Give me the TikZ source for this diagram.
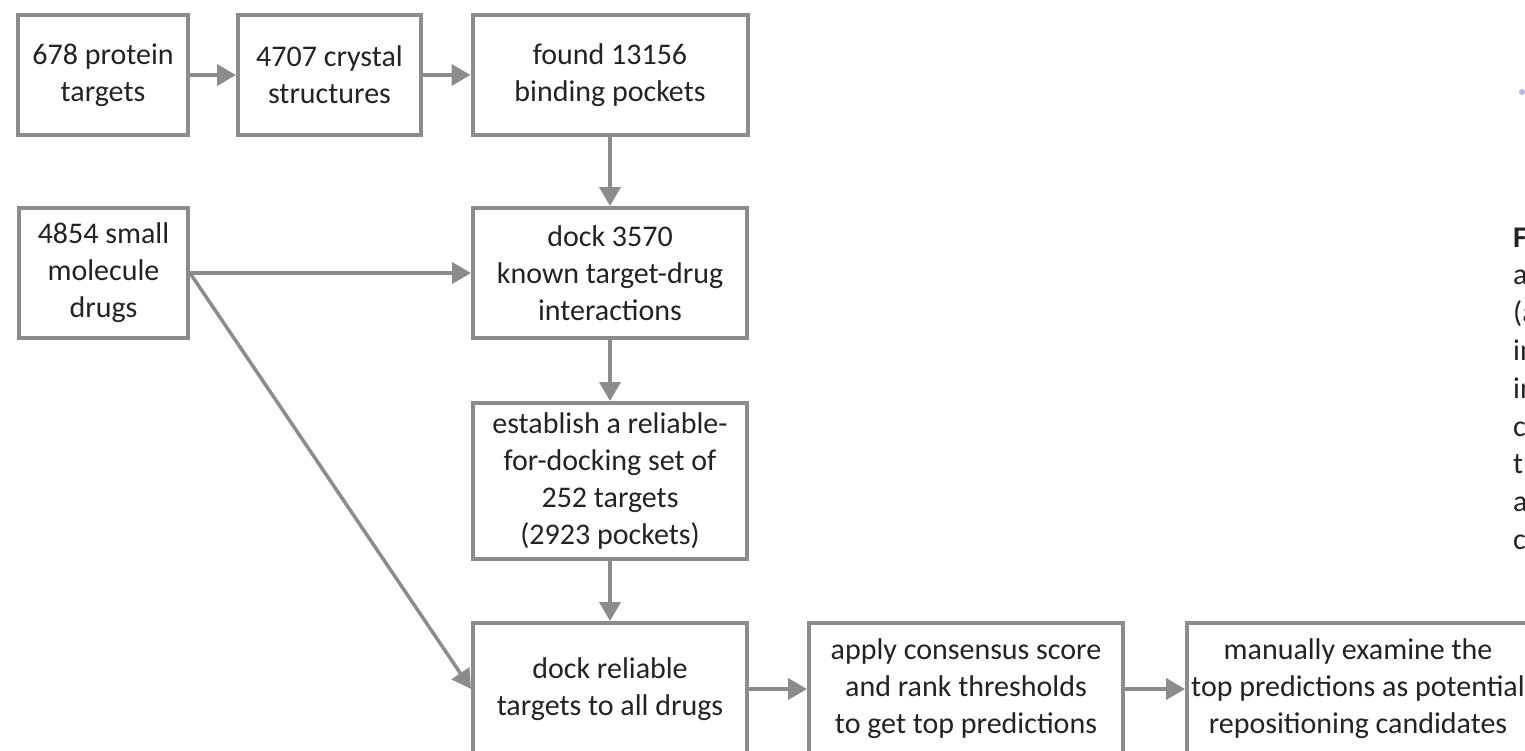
\documentclass[tikz,border=0pt]{standalone}
\usepackage{fontspec}
\setmainfont{Carlito}
\usetikzlibrary{arrows.meta}
\definecolor{edge}{RGB}{140,140,140}
\definecolor{ink}{RGB}{35,35,35}
\definecolor{speck}{RGB}{120,140,200}
\tikzset{
  stage/.style={draw=edge, line width=4pt, fill=white, text=ink, align=center,
    inner sep=1pt, font=\fontsize{30}{37}\selectfont},
  flow/.style={draw=edge, line width=4pt, -{Triangle[length=19pt,width=21pt]}},
  slant/.style={draw=edge, line width=3.5pt, -{Triangle[length=19pt,width=21pt]}},
  capline/.style={text=ink, inner sep=0pt, anchor=base west,
    font=\fontsize{30}{38}\selectfont},
}
\begin{document}
\begin{tikzpicture}[x=1pt,y=-1pt]
\clip (0,0) rectangle (1525,750);
\fill[white] (0,0) rectangle (1525,750);

% pipeline stages
\node[stage, minimum width=170, minimum height=120] (targets) at (103,75)
  {678 protein\\targets};
\node[stage, minimum width=183, minimum height=120] (crystal) at (329.5,75)
  {4707 crystal\\structures};
\node[stage, minimum width=275, minimum height=120] (pockets) at (610,75)
  {found 13156\\binding pockets};
\node[stage, minimum width=169, minimum height=130] (drugs) at (103.5,273)
  {4854 small\\molecule\\drugs};
\node[stage, minimum width=274, minimum height=130] (known) at (610,273)
  {dock 3570\\known target-drug\\interactions};
\node[stage, minimum width=274, minimum height=156] (reliable) at (610,481)
  {establish a reliable-\\for-docking set of\\252 targets\\(2923 pockets)};
\node[stage, minimum width=274, minimum height=132] (dockall) at (610,689)
  {dock reliable\\targets to all drugs};
\node[stage, minimum width=314, minimum height=132] (consensus) at (966,689)
  {apply consensus score\\and rank thresholds\\to get top predictions};
\node[stage, minimum width=342, minimum height=132] (examine) at (1358,689)
  {manually examine the\\top predictions as potential\\repositioning candidates};

% connectors
\draw[flow] (targets) -- (crystal);
\draw[flow] (crystal) -- (pockets);
\draw[flow] (pockets) -- (known);
\draw[flow] (drugs.east) -- (known.west);
\draw[flow] (known) -- (reliable);
\draw[flow] (reliable) -- (dockall);
\draw[slant] (drugs.east) -- (dockall.west);
\draw[flow] (dockall) -- (consensus);
\draw[flow] (consensus) -- (examine);

% caption column at the right edge
\foreach \t [count=\i from 0] in {{\textbf{F}},{a},{(a},{in},{in},{c},{t},{a},{c}}
  \node[capline] (cap\i) at (1513,{247+37.8*\i}) {\t};

\fill[speck, opacity=.6] (1522,92) circle (3);
\end{tikzpicture}
\end{document}
